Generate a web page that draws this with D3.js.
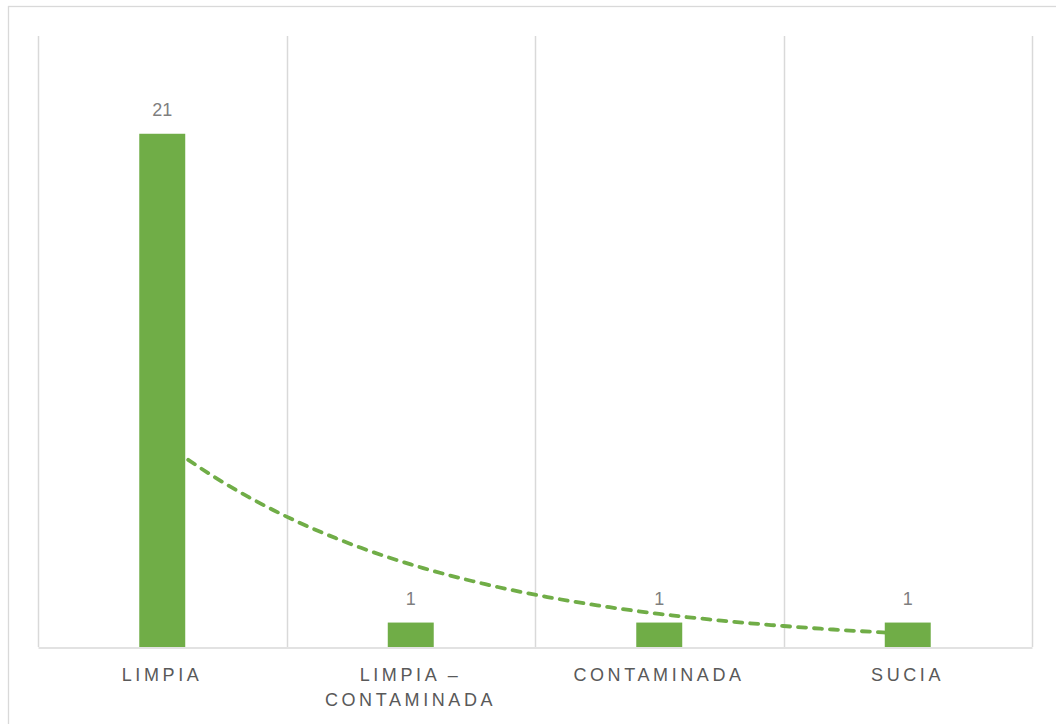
<!DOCTYPE html>
<html>
<head>
<meta charset="utf-8">
<script src="https://cdn.jsdelivr.net/npm/d3@7"></script>
<style>
  body { margin: 0; background: #fff; }
  text { font-family: "Liberation Sans", Arial, sans-serif; }
</style>
</head>
<body>
<script>
const categories = ['LIMPIA', 'LIMPIA – CONTAMINADA', 'CONTAMINADA', 'SUCIA'];
const values = [21, 1, 1, 1];
const yMax = 25;

const width = 1056;
const height = 724;
const plot = {left: 38, right: 1032, top: 36, bottom: 647};
const green = '#70ad47';
const grid = '#d9d9d9';

const svg = d3.select('body')
  .append('svg')
  .attr('width', width)
  .attr('height', height);

// chart area border
svg.append('rect')
  .attr('x', 8.5)
  .attr('y', 6.5)
  .attr('width', 1100)
  .attr('height', 800)
  .attr('fill', '#fff')
  .attr('stroke', grid)
  .attr('stroke-width', 1.3);

const xScale = d3.scaleBand()
  .domain(categories)
  .range([plot.left, plot.right])
  .padding(0);

const yScale = d3.scaleLinear()
  .domain([0, yMax])
  .range([plot.bottom, plot.top]);

// index scale for the trendline (1..n at category centres)
const idxScale = d3.scaleLinear()
  .domain([1, categories.length])
  .range([xScale(categories[0]) + xScale.bandwidth() / 2,
          xScale(categories[categories.length - 1]) + xScale.bandwidth() / 2]);

// vertical gridlines on category boundaries
const bounds = categories.map(c => xScale(c)).concat([plot.right]);
svg.append('g')
  .selectAll('line')
  .data(bounds)
  .enter()
  .append('line')
  .attr('x1', d => Math.round(d) + 0.5)
  .attr('x2', d => Math.round(d) + 0.5)
  .attr('y1', plot.top)
  .attr('y2', plot.bottom)
  .attr('stroke', grid)
  .attr('stroke-width', 1.5);

// x axis (line only, labels drawn below)
const xAxis = d3.axisBottom(xScale).tickSize(0).tickFormat('');
const gx = svg.append('g')
  .attr('transform', `translate(0, ${plot.bottom + 0.5})`)
  .call(xAxis);
gx.select('.domain').attr('stroke', grid).attr('stroke-width', 1.5);

// exponential trendline fitted to the values
const xs = values.map((d, i) => i + 1);
const ly = values.map(d => Math.log(d));
const mx = d3.mean(xs), my = d3.mean(ly);
const b = d3.sum(xs, (x, i) => (x - mx) * (ly[i] - my)) / d3.sum(xs, x => (x - mx) * (x - mx));
const a = my - b * mx;
const trend = d3.range(1, categories.length + 0.001, 0.05).map(x => [x, Math.exp(a + b * x)]);

svg.append('path')
  .datum(trend)
  .attr('fill', 'none')
  .attr('stroke', green)
  .attr('stroke-width', 3.8)
  .attr('stroke-dasharray', '8 8')
  .attr('stroke-linecap', 'round')
  .attr('d', d3.line().x(d => idxScale(d[0])).y(d => yScale(d[1])));

// bars
const barWidth = xScale.bandwidth() * 0.185;
svg.selectAll('.bar')
  .data(categories)
  .enter()
  .append('rect')
  .attr('class', 'bar')
  .attr('x', d => xScale(d) + xScale.bandwidth() / 2 - barWidth / 2)
  .attr('y', (d, i) => yScale(values[i]))
  .attr('width', barWidth)
  .attr('height', (d, i) => plot.bottom - yScale(values[i]))
  .attr('fill', green);

// data labels
svg.selectAll('.val')
  .data(categories)
  .enter()
  .append('text')
  .attr('class', 'val')
  .attr('x', d => xScale(d) + xScale.bandwidth() / 2)
  .attr('y', (d, i) => yScale(values[i]) - 18)
  .attr('text-anchor', 'middle')
  .attr('font-size', 18)
  .attr('fill', '#7f7f7f')
  .text((d, i) => values[i]);

// category labels with wrapping
const spacing = 3.6;
const labels = svg.append('g');
categories.forEach(c => {
  const cx = xScale(c) + xScale.bandwidth() / 2 + spacing / 2 - 2;
  const t = labels.append('text')
    .attr('x', cx)
    .attr('y', 681)
    .attr('text-anchor', 'middle')
    .attr('font-size', 18)
    .attr('letter-spacing', spacing)
    .attr('fill', '#595959');
  const words = c.split(' ');
  let line = [];
  let tspan = t.append('tspan').attr('x', cx).attr('dy', 0);
  words.forEach(w => {
    line.push(w);
    tspan.text(line.join(' '));
    if (tspan.node().getComputedTextLength() > xScale.bandwidth() * 0.9 && line.length > 1) {
      line.pop();
      tspan.text(line.join(' '));
      line = [w];
      tspan = t.append('tspan').attr('x', cx).attr('dy', 25).text(w);
    }
  });
});
</script>
</body>
</html>
